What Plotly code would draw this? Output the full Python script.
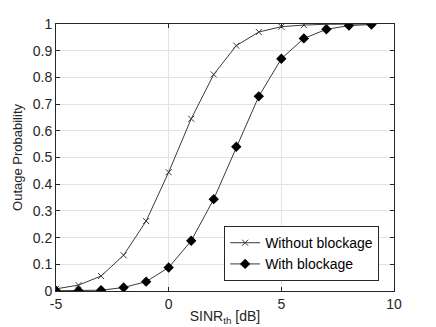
import plotly.graph_objects as go

# SINR threshold in dB
sinr_th = [-5, -4, -3, -2, -1, 0, 1, 2, 3, 4, 5, 6, 7, 8, 9]

# outage probability
p_without = [0.008, 0.022, 0.056, 0.134, 0.262, 0.445, 0.645, 0.811, 0.919,
             0.970, 0.990, 0.996, 0.999, 1.0, 1.0]
p_with = [0.001, 0.001, 0.003, 0.013, 0.035, 0.088, 0.188, 0.344, 0.540,
          0.729, 0.870, 0.946, 0.980, 0.994, 0.998]

y_ticks = [0, 0.1, 0.2, 0.3, 0.4, 0.5, 0.6, 0.7, 0.8, 0.9, 1]
y_labels = ["0", "0.1", "0.2", "0.3", "0.4", "0.5", "0.6", "0.7", "0.8", "0.9", "1"]
x_ticks = [-5, 0, 5, 10]
x_labels = ["-5", "0", "5", "10"]

axis_col = "#262626"
grid_col = "#e3e3e3"
font_fam = "Liberation Sans, Arial, sans-serif"

fig = go.Figure()

fig.add_trace(go.Scatter(
    x=sinr_th, y=p_without, mode="lines+markers", name="Without blockage",
    line=dict(color="#3a3a3a", width=1),
    marker=dict(symbol="x-thin", size=6, color="#3a3a3a",
                line=dict(color="#3a3a3a", width=1)),
))
fig.add_trace(go.Scatter(
    x=sinr_th, y=p_with, mode="lines+markers", name="With blockage",
    line=dict(color="#3a3a3a", width=1),
    marker=dict(symbol="diamond", size=8, color="black"),
))

fig.update_layout(
    width=436, height=327,
    margin=dict(l=48, r=50, t=16, b=44),
    paper_bgcolor="white", plot_bgcolor="white",
    font=dict(family=font_fam, size=14, color=axis_col),
    showlegend=True,
    legend=dict(
        x=0.956, y=0.037, xanchor="right", yanchor="bottom",
        bgcolor="white", bordercolor=axis_col, borderwidth=1,
        font=dict(size=14, color="black"),
        tracegroupgap=0, itemwidth=30,
    ),
)

fig.update_xaxes(
    range=[-5, 10], tickvals=x_ticks, ticktext=x_labels,
    showline=True, linecolor=axis_col, linewidth=1, mirror="ticks",
    ticks="inside", ticklen=4, tickcolor=axis_col,
    showgrid=True, gridcolor=grid_col, zeroline=False, automargin=False,
    title=dict(text="SINR<sub>th</sub> [dB]", standoff=0, font=dict(size=14)),
)
fig.update_yaxes(
    range=[0, 1], tickvals=y_ticks, ticktext=y_labels,
    showline=True, linecolor=axis_col, linewidth=1, mirror="ticks",
    ticks="inside", ticklen=4, tickcolor=axis_col,
    showgrid=True, gridcolor=grid_col, zeroline=False, automargin=False,
    title=dict(text="Outage Probability", standoff=7, font=dict(size=13)),
)

fig.write_html("out.html")
